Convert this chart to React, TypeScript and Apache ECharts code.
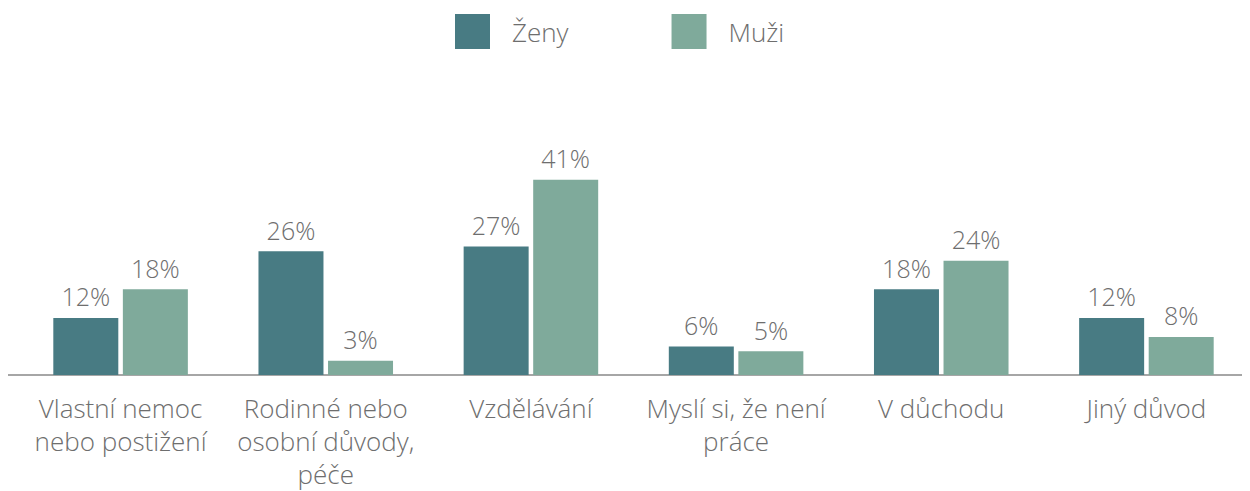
import React, { useEffect, useRef } from "react";
import * as echarts from "echarts";

const categories = [
  "Vlastní nemoc\nnebo postižení",
  "Rodinné nebo\nosobní důvody,\npéče",
  "Vzdělávání",
  "Myslí si, že není\npráce",
  "V důchodu",
  "Jiný důvod",
];
const zeny = [12, 26, 27, 6, 18, 12];
const muzi = [18, 3, 41, 5, 24, 8];

const FONT = "'Open Sans', 'Noto Sans', sans-serif";
const TEXT = "#6e6e6e";

export default function App() {
  const ref = useRef<HTMLDivElement>(null);
  useEffect(() => {
    const chart = echarts.init(ref.current!, null, { renderer: "svg" });
    const label = {
      show: true,
      position: "top",
      distance: 9,
      formatter: "{c}%",
      color: TEXT,
      fontSize: 25,
      fontFamily: FONT,
      fontWeight: 300,
    };
    chart.setOption({
      animation: false,
      textStyle: { fontFamily: FONT },
      legend: {
        top: 6,
        left: 447,
        padding: 0,
        itemWidth: 35,
        itemHeight: 35,
        itemGap: 103,
        icon: "rect",
        textStyle: { color: TEXT, fontSize: 26, fontFamily: FONT, fontWeight: 300, padding: [0, 0, 0, 17] },
        data: ["Ženy", "Muži"],
      },
      grid: { left: 10, right: 1, top: 129, bottom: 116 },
      xAxis: {
        type: "category",
        data: categories,
        axisLine: { lineStyle: { color: "#a6a6a6", width: 2 } },
        axisTick: { show: false },
        axisLabel: {
          color: TEXT,
          fontSize: 26,
          lineHeight: 33,
          fontFamily: FONT,
          fontWeight: 300,
          margin: 16,
          interval: 0,
        },
      },
      yAxis: { type: "value", min: 0, max: 50, show: false, splitLine: { show: false } },
      series: [
        { name: "Ženy", type: "bar", data: zeny, barWidth: 65, barGap: "7%", itemStyle: { color: "#487b83" }, label },
        { name: "Muži", type: "bar", data: muzi, barWidth: 65, itemStyle: { color: "#7faa9b" }, label },
      ],
      graphic: [
        { type: "line", shape: { x1: 0, y1: 367, x2: 12, y2: 367 }, style: { stroke: "#a6a6a6", lineWidth: 2 } },
      ],
    });
    return () => chart.dispose();
  }, []);
  return <div ref={ref} style={{ width: 1242, height: 483 }} />;
}
